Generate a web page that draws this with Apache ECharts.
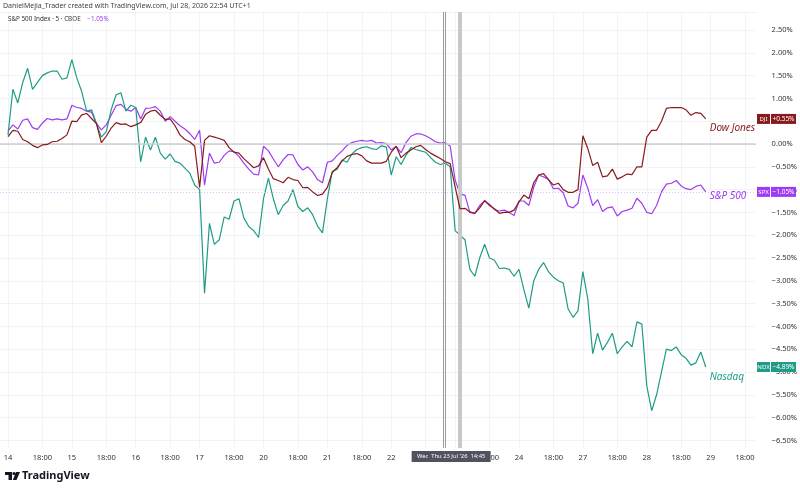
<!DOCTYPE html>
<html><head><meta charset="utf-8">
<script src="https://cdn.jsdelivr.net/npm/echarts@6/dist/echarts.min.js"></script>
<style>html,body{margin:0;padding:0;background:#fff}#c{width:800px;height:492px}</style>
</head><body><div id="c"></div>
<script>
// ---- data (percent change, sampled every 30 min = 6 five-minute bars) ----
const dayLabels = ['14','15','16','17','20','21','22','23','24','27','28','29'];
const barsPerDay = 78;
const sampleStep = 6;
const ndx = [
 0.2, 1.2, 0.9, 1.35, 1.66, 1.2, 1.35, 1.5, 1.56, 1.6, 1.6, 1.42, 1.45,
 1.85, 1.45, 1.15, 0.72, 0.75, 0.45, 0.15, 0.27, 0.75, 1.08, 1.12, 0.72, 0.85,
 0.8, -0.39, 0.15, -0.13, 0.15, -0.2, -0.33, -0.22, -0.38, -0.42, -0.53, -0.64, -0.9,
 -1.0, -3.27, -1.74, -2.2, -2.1, -1.6, -1.65, -1.25, -1.2, -1.62, -1.81, -1.9, -2.05,
 -1.2, -0.75, -1.2, -1.55, -1.35, -1.25, -1.0, -1.37, -1.48, -1.4, -1.55, -1.8, -1.95,
 -1.2, -0.6, -0.55, -0.35, -0.4, -0.22, -0.12, -0.08, -0.06, -0.1, -0.12, -0.04, -0.07,
 -0.68, -0.28, -0.45, -0.25, -0.08, -0.12, -0.15, -0.18, -0.3, -0.4, -0.45, -0.42, -0.5,
 -1.9, -2.0, -2.1, -2.75, -2.9, -2.5, -2.2, -2.5, -2.55, -2.73, -2.72, -2.75, -2.9,
 -2.75, -3.2, -3.6, -3.0, -2.75, -2.6, -2.8, -2.92, -3.0, -3.05, -3.62, -3.8, -3.66,
 -2.8, -3.4, -4.6, -4.15, -4.52, -4.35, -4.15, -4.6, -4.45, -4.33, -4.45, -3.9, -3.95,
 -5.3, -5.85, -5.5, -5.0, -4.5, -4.53, -4.45, -4.62, -4.7, -4.85, -4.8, -4.56, -4.89
];
const spx = [
 0.28, 0.42, 0.33, 0.52, 0.55, 0.36, 0.32, 0.46, 0.56, 0.53, 0.55, 0.53, 0.55,
 0.85, 0.8, 0.78, 0.72, 0.7, 0.45, 0.31, 0.42, 0.63, 0.84, 0.87, 0.76, 0.72,
 0.8, 0.55, 0.78, 0.79, 0.82, 0.72, 0.5, 0.6, 0.5, 0.4, 0.33, 0.23, 0.1,
 0.3, -0.9, -0.2, -0.42, -0.4, -0.25, -0.15, -0.17, -0.27, -0.42, -0.55, -0.66, -0.68,
 -0.05, -0.15, -0.33, -0.5, -0.35, -0.23, -0.24, -0.45, -0.57, -0.5, -0.61, -0.78, -0.85,
 -0.4, -0.37, -0.25, -0.15, -0.03, 0.03, 0.06, 0.08, 0.06, 0.08, 0.02, 0.03, 0.01,
 -0.13, -0.05, -0.19, 0.03, 0.17, 0.22, 0.22, 0.18, 0.12, 0.05, 0.02, 0.03, -0.05,
 -0.79, -1.1, -1.12, -1.5, -1.52, -1.35, -1.25, -1.32, -1.44, -1.47, -1.45, -1.5, -1.57,
 -1.25, -1.25, -1.35, -0.95, -0.68, -0.72, -0.78, -0.98, -0.97, -1.07, -1.36, -1.4, -1.3,
 -0.68, -0.97, -1.35, -1.22, -1.48, -1.4, -1.38, -1.58, -1.48, -1.45, -1.41, -1.19, -1.3,
 -1.5, -1.53, -1.35, -1.05, -0.88, -0.86, -0.8, -0.92, -0.98, -1.0, -0.93, -0.9, -1.05
];
const dji = [
 0.16, 0.3, 0.28, 0.1, 0.05, -0.03, -0.08, -0.02, -0.01, 0.05, 0.06, 0.12, 0.2,
 0.5, 0.49, 0.64, 0.67, 0.56, 0.45, 0.03, 0.17, 0.35, 0.47, 0.43, 0.44, 0.38,
 0.42, 0.47, 0.65, 0.72, 0.74, 0.63, 0.54, 0.55, 0.4, 0.2, 0.1, 0.05, -0.05,
 -0.95, 0.08, 0.18, 0.15, 0.12, 0.08, -0.08, -0.18, -0.2, -0.32, -0.42, -0.52, -0.48,
 -0.3, -0.55, -0.76, -0.8, -0.85, -0.73, -0.78, -0.8, -0.96, -0.95, -1.05, -1.13, -1.1,
 -0.95, -0.62, -0.52, -0.37, -0.27, -0.23, -0.21, -0.26, -0.37, -0.42, -0.42, -0.42, -0.38,
 -0.18, -0.05, -0.3, -0.2, -0.13, -0.06, -0.03, -0.12, -0.2, -0.26, -0.32, -0.39, -0.43,
 -0.94, -1.42, -1.41, -1.49, -1.52, -1.4, -1.24, -1.35, -1.42, -1.52, -1.5, -1.5, -1.45,
 -1.27, -1.12, -1.2, -0.85, -0.68, -0.65, -0.78, -0.9, -0.86, -1.0, -1.06, -1.06, -1.0,
 0.18, -0.1, -0.47, -0.4, -0.72, -0.7, -0.55, -0.77, -0.72, -0.66, -0.67, -0.5, -0.5,
 0.15, 0.3, 0.3, 0.5, 0.78, 0.8, 0.8, 0.8, 0.75, 0.63, 0.69, 0.67, 0.55
];
const yTickValues = [-6.5,-6,-5.5,-5,-4.5,-4,-3.5,-3,-2.5,-2,-1.5,-1,-0.5,0,0.5,1,1.5,2,2.5];
const markerBars = [532, 534.5];
const crosshairBar = 551.5;
const crosshairText = "Wec  Thu 23 Jul '26  14:45";

// ---- build ----
const xTicks = [];
dayLabels.forEach((d, i) => { xTicks.push(i * barsPerDay); xTicks.push(i * barsPerDay + 42); });
function xLabel(v) {
  const r = Math.round(v) % barsPerDay;
  if (r === 0) return dayLabels[Math.round(v) / barsPerDay];
  return '18:00';
}
function pct(v) {
  const s = Math.abs(v).toFixed(2) + '%';
  if (Math.abs(v) < 1e-9) return '0.00%';
  return (v < 0 ? '\u2212' : '') + s;
}
const toXY = arr => arr.map((v, i) => [i * sampleStep, v]);
const C_NDX = '#1f9c86', C_SPX = '#9d3cf2', C_DJI = '#871a1d';
const font = '"Noto Sans", Roboto, sans-serif';

const chart = echarts.init(document.getElementById('c'), null, {renderer: 'canvas'});
chart.setOption({
  animation: false,
  backgroundColor: '#ffffff',
  grid: {left: 0, right: 43, top: 12, bottom: 44, containLabel: false},
  xAxis: {
    type: 'value', min: -9.75, max: 912.9,
    axisLine: {show: true, lineStyle: {color: '#e0e3eb'}},
    axisTick: {show: false, customValues: xTicks},
    axisLabel: {customValues: xTicks, formatter: xLabel, color: '#333', fontSize: 7.5, fontFamily: font, margin: 6},
    splitLine: {show: true, lineStyle: {color: '#f2f3f6', width: 1}}
  },
  yAxis: {
    type: 'value', position: 'right', min: -6.667, max: 2.895,
    axisLine: {show: false},
    axisTick: {show: false, customValues: yTickValues},
    axisLabel: {customValues: yTickValues, formatter: pct, color: '#333', fontSize: 7.5, fontFamily: font, margin: 16, align: 'left'},
    splitLine: {show: true, lineStyle: {color: '#f2f3f6', width: 1}}
  },
  series: [
    {name: 'S&P 500', type: 'line', data: toXY(spx), showSymbol: false, lineStyle: {color: C_SPX, width: 1.2}, z: 3,
     markLine: {silent: true, symbol: 'none', label: {show: false},
       data: [
         {yAxis: 0, lineStyle: {color: '#cfcfd2', width: 1.5, type: 'solid'}},
         {yAxis: spx[spx.length-1], lineStyle: {color: '#dcc0fb', width: 1, type: [1,2]}},
         {xAxis: markerBars[0], lineStyle: {color: '#9a9a9a', width: 1, type: 'solid'}},
         {xAxis: markerBars[1], lineStyle: {color: '#9a9a9a', width: 1, type: 'solid'}},
         {xAxis: crosshairBar, lineStyle: {color: '#c8c8c8', width: 4, type: 'solid'}}
       ]}},
    {name: 'Nasdaq', type: 'line', data: toXY(ndx), showSymbol: false, lineStyle: {color: C_NDX, width: 1.2}, z: 4},
    {name: 'Dow Jones', type: 'line', data: toXY(dji), showSymbol: false, lineStyle: {color: C_DJI, width: 1.2}, z: 5}
  ]
});

// tags and annotations positioned through the axes
const lastX = (ndx.length - 1) * sampleStep;
const gRight = 757;
function yPix(v) { return chart.convertToPixel({yAxisIndex: 0}, v); }
function xPix(v) { return chart.convertToPixel({xAxisIndex: 0}, v); }
const g = [];
function tag(name, val, color) {
  const y = yPix(val);
  g.push({type: 'rect', shape: {x: gRight, y: y - 5, width: 13, height: 10}, style: {fill: color}, z: 50});
  g.push({type: 'text', x: gRight + 6.5, y: y, style: {text: name, fill: '#fff', font: '6px ' + font, align: 'center', verticalAlign: 'middle'}, z: 51});
  g.push({type: 'rect', shape: {x: gRight + 14, y: y - 5, width: 25, height: 10}, style: {fill: color}, z: 50});
  g.push({type: 'text', x: gRight + 26.5, y: y, style: {text: (val > 0 ? '+' : '') + pct(val), fill: '#fff', font: '6.5px ' + font, align: 'center', verticalAlign: 'middle'}, z: 51});
}
tag('DJI', dji[dji.length-1], C_DJI);
tag('SPX', spx[spx.length-1], C_SPX);
tag('NDX', ndx[ndx.length-1], C_NDX);
function note(text, val, dy, color) {
  g.push({type: 'text', x: xPix(lastX) + 4, y: yPix(val) + dy, style: {text: text, fill: color, font: 'italic 10px ' + font, verticalAlign: 'middle'}, z: 40});
}
note('Dow Jones', dji[dji.length-1], 9, C_DJI);
note('S&P 500', spx[spx.length-1], 4, C_SPX);
note('Nasdaq', ndx[ndx.length-1], 10, C_NDX);
// crosshair time label
const cx = xPix(crosshairBar);
g.push({type: 'rect', shape: {x: cx - 48, y: 451, width: 79, height: 11}, style: {fill: '#50535e'}, z: 60});
g.push({type: 'text', x: cx - 8.5, y: 456.5, style: {text: crosshairText, fill: '#fff', font: '5.8px ' + font, align: 'center', verticalAlign: 'middle'}, z: 61});
// header
g.push({type: 'text', x: 3, y: 6, style: {text: 'DanielMejia_Trader created with TradingView.com, Jul 28, 2026 22:54 UTC+1', fill: '#444', font: '7px ' + font, verticalAlign: 'middle'}, z: 70});
g.push({type: 'rect', shape: {x: 0, y: 12, width: 757, height: 0.5}, style: {fill: '#e6e6e6'}, z: 1});
g.push({type: 'text', x: 8, y: 19, style: {
  text: '{a|S&P 500 Index \u00b7 5 \u00b7 CBOE}  {b|' + pct(spx[spx.length-1]) + '}',
  verticalAlign: 'middle',
  rich: {a: {fill: '#333', font: '6.3px ' + font}, b: {fill: C_SPX, font: '6.3px ' + font}}
}, z: 70});
// TradingView logo
g.push({type: 'rect', shape: {x: 5, y: 472, width: 7, height: 3}, style: {fill: '#131722'}, z: 70});
g.push({type: 'rect', shape: {x: 8.5, y: 472, width: 3.5, height: 8}, style: {fill: '#131722'}, z: 70});
g.push({type: 'circle', shape: {cx: 14, cy: 473.5, r: 1.6}, style: {fill: '#131722'}, z: 70});
g.push({type: 'polygon', shape: {points: [[16, 472], [20, 472], [16.5, 480], [12.8, 480]]}, style: {fill: '#131722'}, z: 70});
g.push({type: 'text', x: 22, y: 476, style: {text: 'TradingView', fill: '#131722', font: 'bold 11px ' + font, verticalAlign: 'middle'}, z: 70});
chart.setOption({graphic: g});
</script></body></html>
